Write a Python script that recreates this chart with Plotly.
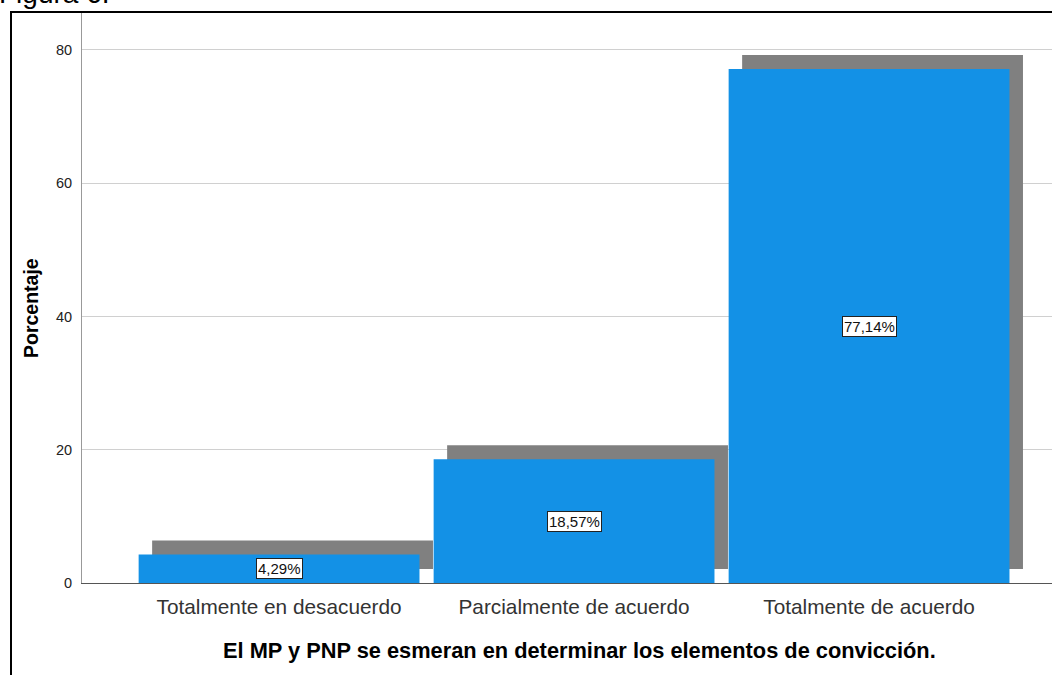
import plotly.graph_objects as go

categories = ["Totalmente en desacuerdo", "Parcialmente de acuerdo", "Totalmente de acuerdo"]
values = [4.29, 18.57, 77.14]
labels = ["4,29%", "18,57%", "77,14%"]
y_ticks = [0, 20, 40, 60, 80]
x_title = "El MP y PNP se esmeran en determinar los elementos de convicción."
y_title = "Porcentaje"

W, H = 1052, 675
ML, MR, MT, MB = 82, 0, 12, 92
PW, PH = W - ML - MR, H - MT - MB

x_range = [-0.668, -0.668 + PW / 295.0]
y_range = [0, 85.7]
bar_w = 0.952
dx = 13.5 / 295.0
dy = 14 * (y_range[1] - y_range[0]) / PH

xs = list(range(len(categories)))
FONT = "Liberation Sans, Arial"

fig = go.Figure()
# shadow
fig.add_trace(go.Bar(
    x=xs, y=values, base=[dy] * len(values), width=bar_w, offset=-bar_w / 2 + dx,
    marker=dict(color="#808080", line=dict(width=0)), hoverinfo="skip", showlegend=False,
))
# main bars
fig.add_trace(go.Bar(
    x=xs, y=values, width=bar_w, offset=-bar_w / 2,
    marker=dict(color="#1391e6", line=dict(width=0)), showlegend=False,
))

for xi, v, lab in zip(xs, values, labels):
    fig.add_annotation(
        x=xi, y=v / 2, text=lab, showarrow=False,
        font=dict(family=FONT, size=15, color="#111"),
        bgcolor="white", bordercolor="#222", borderwidth=1, borderpad=1,
    )

fl = (11 - ML) / PW
fig.add_shape(type="path", xref="paper", yref="paper",
              path=f"M {fl} -0.5 L {fl} 1.0 L 1.2 1.0",
              line=dict(color="black", width=2))

fig.add_annotation(
    xref="paper", yref="paper", x=(-ML - 3) / PW, y=1 + (MT - 11) / PH,
    xanchor="left", yanchor="bottom", text="Figura 6.", showarrow=False,
    font=dict(family=FONT, size=28, color="black"),
)

fig.add_annotation(
    xref="paper", yref="paper", x=(579 - ML) / PW, y=(583 - 650) / PH,
    xanchor="center", yanchor="middle", text=f"<b>{x_title}</b>", showarrow=False,
    font=dict(family=FONT, size=21.8, color="black"),
)
fig.add_annotation(
    xref="paper", yref="paper", x=(31 - ML) / PW, y=(583 - 308) / PH,
    xanchor="center", yanchor="middle", text=f"<b>{y_title}</b>", showarrow=False,
    textangle=-90, font=dict(family=FONT, size=19.5, color="black"),
)

fig.update_layout(
    width=W, height=H, barmode="overlay",
    margin=dict(l=ML, r=MR, t=MT, b=MB),
    paper_bgcolor="white", plot_bgcolor="white",
    font=dict(family=FONT, color="#222"),
    xaxis=dict(
        range=x_range, tickmode="array", tickvals=xs, ticktext=categories,
        showgrid=False, showline=True, linecolor="#555", linewidth=1,
        tickfont=dict(size=20.8, color="#333"), ticks="", ticklabelstandoff=5,
        zeroline=False,
    ),
    yaxis=dict(
        range=y_range, tickvals=y_ticks, showgrid=True, gridcolor="#d0d0d0",
        showline=True, linecolor="#999", linewidth=1, ticks="",
        tickfont=dict(size=14.5, color="#222"), ticklabelstandoff=6,
        zeroline=False,
    ),
)

fig.write_html("out.html", config={"displayModeBar": False},
               post_script="document.body.style.margin='0';document.body.style.overflow='hidden';")
